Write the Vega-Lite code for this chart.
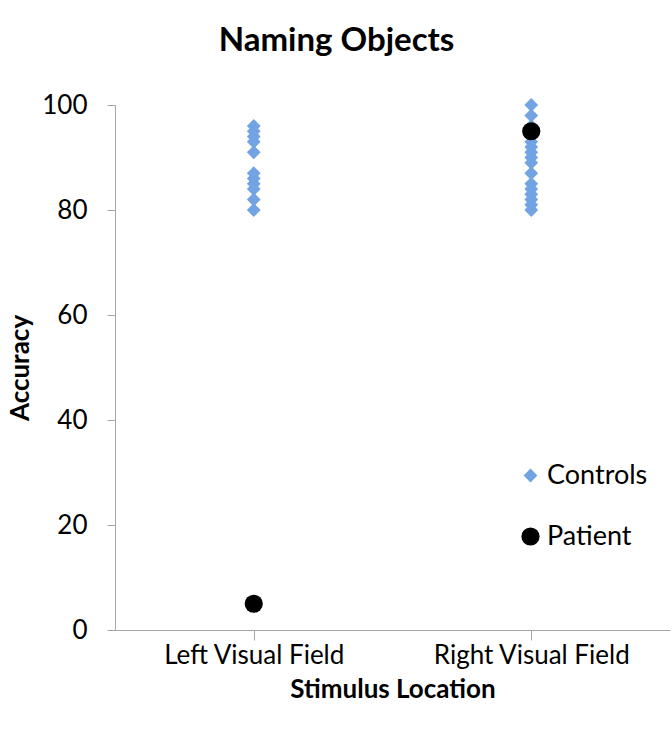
{
  "$schema": "https://vega.github.io/schema/vega-lite/v6.json",
  "autosize": {"type": "none"},
  "padding": {"left": 115, "top": 105, "right": 2, "bottom": 101},
  "width": 555,
  "height": 525,
  "background": "white",
  "config": {
    "view": {"stroke": null},
    "font": "Lato",
    "axis": {"grid": false, "domainColor": "#a6a6a6", "tickColor": "#a6a6a6", "labelColor": "black", "titleColor": "black", "labelFont": "Lato", "titleFont": "Lato", "labelLimit": 0}
  },
  "title": {"text": "Naming Objects", "fontSize": 33, "fontWeight": "bold", "font": "Lato", "color": "black", "anchor": "middle", "dx": -56, "offset": 34},
  "data": {
    "values": [
      {"field": "Left Visual Field", "accuracy": 96, "group": "Controls"},
      {"field": "Left Visual Field", "accuracy": 95, "group": "Controls"},
      {"field": "Left Visual Field", "accuracy": 94, "group": "Controls"},
      {"field": "Left Visual Field", "accuracy": 93, "group": "Controls"},
      {"field": "Left Visual Field", "accuracy": 91, "group": "Controls"},
      {"field": "Left Visual Field", "accuracy": 87, "group": "Controls"},
      {"field": "Left Visual Field", "accuracy": 86, "group": "Controls"},
      {"field": "Left Visual Field", "accuracy": 85, "group": "Controls"},
      {"field": "Left Visual Field", "accuracy": 84, "group": "Controls"},
      {"field": "Left Visual Field", "accuracy": 82, "group": "Controls"},
      {"field": "Left Visual Field", "accuracy": 80, "group": "Controls"},
      {"field": "Right Visual Field", "accuracy": 100, "group": "Controls"},
      {"field": "Right Visual Field", "accuracy": 98, "group": "Controls"},
      {"field": "Right Visual Field", "accuracy": 96, "group": "Controls"},
      {"field": "Right Visual Field", "accuracy": 93, "group": "Controls"},
      {"field": "Right Visual Field", "accuracy": 92, "group": "Controls"},
      {"field": "Right Visual Field", "accuracy": 91, "group": "Controls"},
      {"field": "Right Visual Field", "accuracy": 90, "group": "Controls"},
      {"field": "Right Visual Field", "accuracy": 89, "group": "Controls"},
      {"field": "Right Visual Field", "accuracy": 87, "group": "Controls"},
      {"field": "Right Visual Field", "accuracy": 85, "group": "Controls"},
      {"field": "Right Visual Field", "accuracy": 84, "group": "Controls"},
      {"field": "Right Visual Field", "accuracy": 83, "group": "Controls"},
      {"field": "Right Visual Field", "accuracy": 82, "group": "Controls"},
      {"field": "Right Visual Field", "accuracy": 81, "group": "Controls"},
      {"field": "Right Visual Field", "accuracy": 80, "group": "Controls"},
      {"field": "Left Visual Field", "accuracy": 5, "group": "Patient"},
      {"field": "Right Visual Field", "accuracy": 95, "group": "Patient"}
    ]
  },
  "mark": {"type": "point", "filled": true, "opacity": 1, "strokeWidth": 0},
  "encoding": {
    "x": {
      "field": "field", "type": "nominal",
      "scale": {"domain": ["Left Visual Field", "Right Visual Field"], "paddingInner": 0, "paddingOuter": 0},
      "axis": {"title": "Stimulus Location", "labelAngle": 0, "labelFontSize": 26, "titleFontSize": 26, "titleFontWeight": "bold", "tickSize": 10, "bandPosition": 0, "labelPadding": 2, "titlePadding": 8}
    },
    "y": {
      "field": "accuracy", "type": "quantitative",
      "scale": {"domain": [0, 100], "nice": false, "zero": true},
      "axis": {"title": "Accuracy", "values": [0, 20, 40, 60, 80, 100], "labelFontSize": 26, "titleFontSize": 26, "titleFontWeight": "bold", "tickSize": 8, "labelPadding": 20, "titlePadding": 8}
    },
    "color": {
      "field": "group", "type": "nominal",
      "scale": {"domain": ["Controls", "Patient"], "range": ["#72a3e3", "#000000"]},
      "legend": {"title": null, "orient": "none", "legendX": 402, "legendY": 357, "padding": 0, "labelFontSize": 27, "labelFont": "Lato", "labelColor": "black", "rowPadding": 33, "symbolStrokeWidth": 0, "labelOffset": 3}
    },
    "shape": {
      "field": "group", "type": "nominal",
      "scale": {"domain": ["Controls", "Patient"], "range": ["diamond", "circle"]}
    },
    "size": {
      "field": "group", "type": "nominal",
      "scale": {"domain": ["Controls", "Patient"], "range": [190, 330]}
    }
  }
}
